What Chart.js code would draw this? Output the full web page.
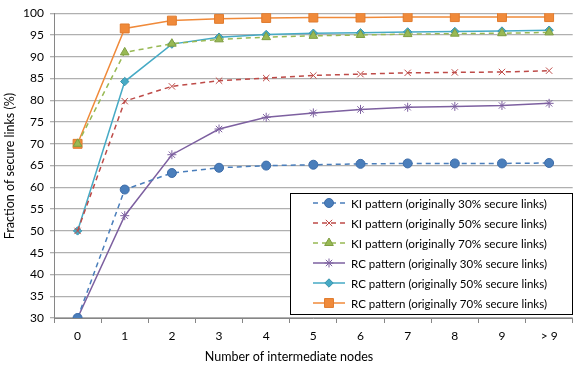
<!DOCTYPE html>
<html>
<head>
<meta charset="utf-8">
<script src="https://cdn.jsdelivr.net/npm/chart.js@4"></script>
<style>
  html, body { margin: 0; padding: 0; background: #fff; overflow: hidden; }
  #wrap { width: 580px; height: 365px; }
</style>
</head>
<body>
<div id="wrap"><canvas id="chart"></canvas></div>
<script>
// data
var nodes = ['0', '1', '2', '3', '4', '5', '6', '7', '8', '9', '> 9']
var ki30 = [30, 59.5, 63.3, 64.5, 65.0, 65.2, 65.4, 65.5, 65.5, 65.5, 65.6]
var ki50 = [50, 79.8, 83.2, 84.5, 85.1, 85.7, 86.0, 86.3, 86.4, 86.5, 86.8]
var ki70 = [70, 91.0, 93.0, 94.0, 94.5, 94.8, 95.0, 95.2, 95.3, 95.4, 95.6]
var rc30 = [30, 53.5, 67.5, 73.4, 76.1, 77.1, 77.9, 78.4, 78.6, 78.8, 79.3]
var rc50 = [50, 84.3, 92.9, 94.5, 95.1, 95.4, 95.5, 95.7, 95.8, 95.9, 96.1]
var rc70 = [70, 96.5, 98.3, 98.7, 98.9, 99.0, 99.0, 99.1, 99.1, 99.1, 99.1]
var names = [
  'KI pattern (originally 30% secure links)',
  'KI pattern (originally 50% secure links)',
  'KI pattern (originally 70% secure links)',
  'RC pattern (originally 30% secure links)',
  'RC pattern (originally 50% secure links)',
  'RC pattern (originally 70% secure links)'
]

var FONT = 'Lato, "Open Sans", sans-serif'

function series(label, data, color, dark, style, radius, dashed){
  return {
    label: label, data: data,
    borderColor: color, backgroundColor: color,
    borderWidth: 1.5,
    borderDash: dashed ? [5, 4] : [],
    pointStyle: style, pointRadius: radius,
    pointBackgroundColor: color, pointBorderColor: dark, pointBorderWidth: 1,
    tension: 0
  }
}

var datagroup = [
  series(names[0], ki30, '#4A7EBB', '#3D6CA8', 'circle', 4.5, true),
  series(names[1], ki50, '#BE4B48', '#BE4B48', 'crossRot', 4.5, true),
  series(names[2], ki70, '#98B954', '#7F9E42', 'triangle', 5, true),
  series(names[3], rc30, '#7D60A0', '#7D60A0', 'star', 4.5, false),
  series(names[4], rc50, '#46AAC5', '#3A95AE', 'rectRot', 4.2, false),
  series(names[5], rc70, '#F08A3A', '#E07B2E', 'rect', 6.3, false)
]

// legend box drawn inside the plot
var boxLegend = {
  id: 'boxLegend',
  afterDraw: function(chart){
    var c = chart.ctx
    c.save()
    c.fillStyle = '#fff'
    c.fillRect(290, 193, 282, 121)
    c.strokeStyle = '#000'
    c.lineWidth = 1
    c.strokeRect(290.5, 193.5, 282, 121)
    chart.data.datasets.forEach(function(ds, i){
      var y = 203 + i * 20
      c.save()
      c.strokeStyle = ds.borderColor
      c.lineWidth = ds.borderWidth
      c.setLineDash(ds.borderDash)
      c.beginPath(); c.moveTo(313, y); c.lineTo(345, y); c.stroke()
      c.restore()
      c.fillStyle = ds.pointBackgroundColor
      c.strokeStyle = ds.pointBorderColor
      c.lineWidth = 1
      if (Chart.helpers && Chart.helpers.drawPoint){
        Chart.helpers.drawPoint(c, {pointStyle: ds.pointStyle, radius: ds.pointRadius, borderWidth: 1, rotation: 0}, 329, y)
      }
      c.fillStyle = '#000'
      c.font = '12px ' + FONT
      c.textBaseline = 'middle'
      c.textAlign = 'left'
      c.fillText(ds.label, 351, y + 1, 196)
    })
    // axis titles
    c.font = '12.5px ' + FONT
    c.textAlign = 'center'
    c.textBaseline = 'middle'
    c.fillText('Number of intermediate nodes', 289, 357)
    c.translate(10, 166)
    c.rotate(-Math.PI / 2)
    c.fillText('Fraction of secure links (%)', 0, 0)
    c.restore()
  }
}

var ctx = document.getElementById('chart')
var ReportChart = new Chart(ctx, {
  type: 'line',
  data: { labels: nodes, datasets: datagroup },
  options: {
    responsive: true,
    maintainAspectRatio: false,
    animation: false,
    layout: { padding: { top: 13, right: 2, left: 0, bottom: 0 } },
    plugins: { legend: { display: false }, tooltip: { enabled: false } },
    scales: {
      x: {
        offset: true,
        grid: { display: true, drawOnChartArea: false, drawTicks: true, tickLength: 5, offset: true, color: '#868686' },
        border: { display: true, color: '#868686', width: 1 },
        ticks: { color: '#000', font: { family: FONT, size: 12 }, padding: 6, maxRotation: 0, autoSkip: false },
        afterFit: function(s){ s.height = 47 }
      },
      y: {
        min: 30, max: 100,
        grid: { color: '#B0B0B0', lineWidth: 1.3, tickLength: 4, drawTicks: true },
        border: { display: true, color: '#868686', width: 1 },
        ticks: { stepSize: 5, color: '#000', font: { family: FONT, size: 12 }, padding: 6 },
        afterFit: function(s){ s.width = 54 }
      }
    }
  },
  plugins: [boxLegend]
})
</script>
</body>
</html>
